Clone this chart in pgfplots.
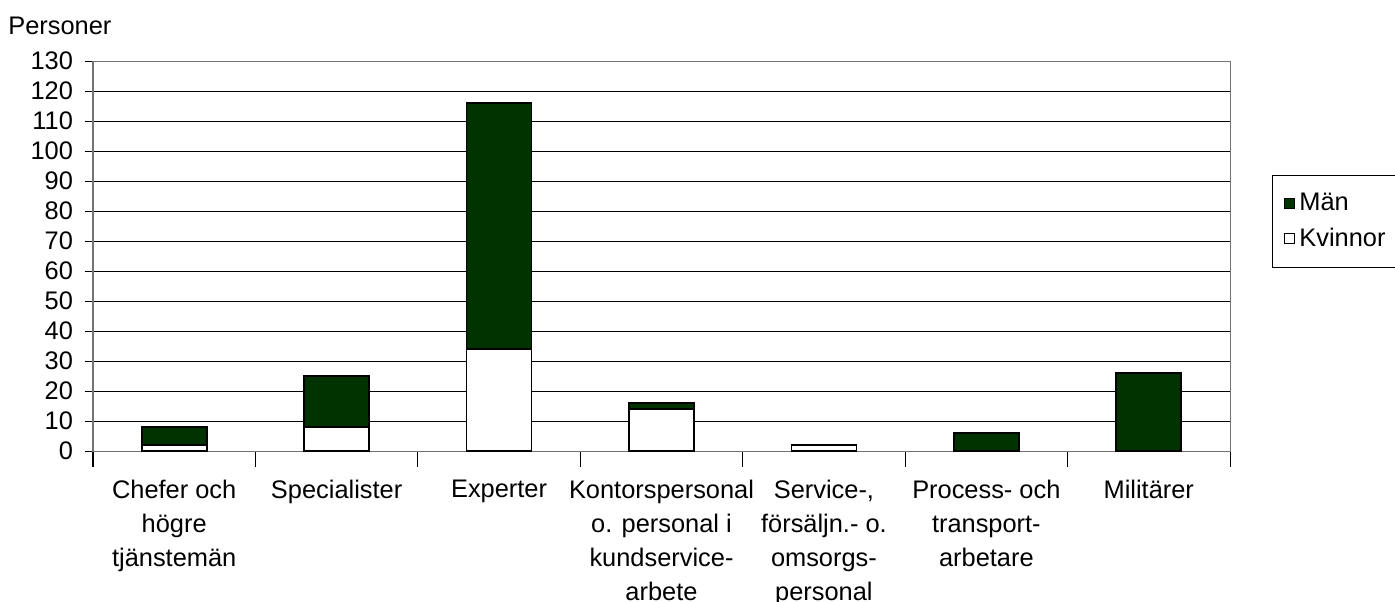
\documentclass[border=0pt]{standalone}
\usepackage{fontspec}
\setmainfont{Liberation Sans}
\usepackage{pgfplots}
\pgfplotsset{compat=1.18}
\definecolor{man}{RGB}{0,51,0}
\begin{document}
\begin{tikzpicture}
\useasboundingbox (0,0) rectangle (697.5pt,300.5pt);
\node[anchor=base west, inner sep=0pt, font=\fontsize{12.7}{14}\selectfont] at (4pt,283pt) {Personer};
\begin{axis}[
  at={(46.5pt,75pt)}, anchor=south west,
  scale only axis, width=568.5pt, height=195pt,
  ybar stacked, bar width=32.5pt,
  xmin=-0.5, xmax=6.5, ymin=0, ymax=130,
  ytick={0,10,...,130},
  xtick={0,...,6},
  xticklabels={{Chefer och\\högre\\tjänstemän},{Specialister},{Experter},{Kontorspersonal\\o. personal i\\kundservice-\\arbete},{Service-,\\försäljn.- o.\\omsorgs-\\personal},{Process- och\\transport-\\arbetare},{Militärer}},
  minor xtick={-0.5,0.5,...,6.5},
  major x tick style={draw=none},
  minor x tick style={black, line width=0.5pt},
  minor tick length=8pt,
  xtick pos=bottom, ytick pos=left,
  y tick style={black, line width=0.5pt, xshift=4pt},
  major tick length=8pt,
  tick align=outside,
  ymajorgrids, grid style={black, line width=0.5pt},
  axis line style={black!55, line width=0.5pt},
  /pgf/number format/assume math mode=true,
  ticklabel style={font=\fontsize{12.7}{17}\selectfont},
  xticklabel style={align=center, yshift=-3pt},
  yticklabel style={xshift=1.5pt},
  reverse legend,
  legend style={at={(1.0369,0.7077)}, anchor=north west, draw=black, line width=0.5pt,
    font=\fontsize{12.7}{14}\selectfont, row sep=3pt, inner xsep=6pt, inner ysep=7pt},
  legend cell align=left,
  legend image code/.code={\draw[#1, line width=0.5pt] (0pt,-2.5pt) rectangle (5pt,2.5pt);},
]
\addplot[fill=white, draw=black, line width=0.8pt] coordinates {(0,2) (1,8) (2,34) (3,14) (4,2) (5,0) (6,0)};
\addplot[fill=man, draw=black, line width=0.8pt] coordinates {(0,6) (1,17) (2,82) (3,2) (4,0) (5,6) (6,26)};
\legend{Kvinnor, Män}
\end{axis}
\end{tikzpicture}
\end{document}
